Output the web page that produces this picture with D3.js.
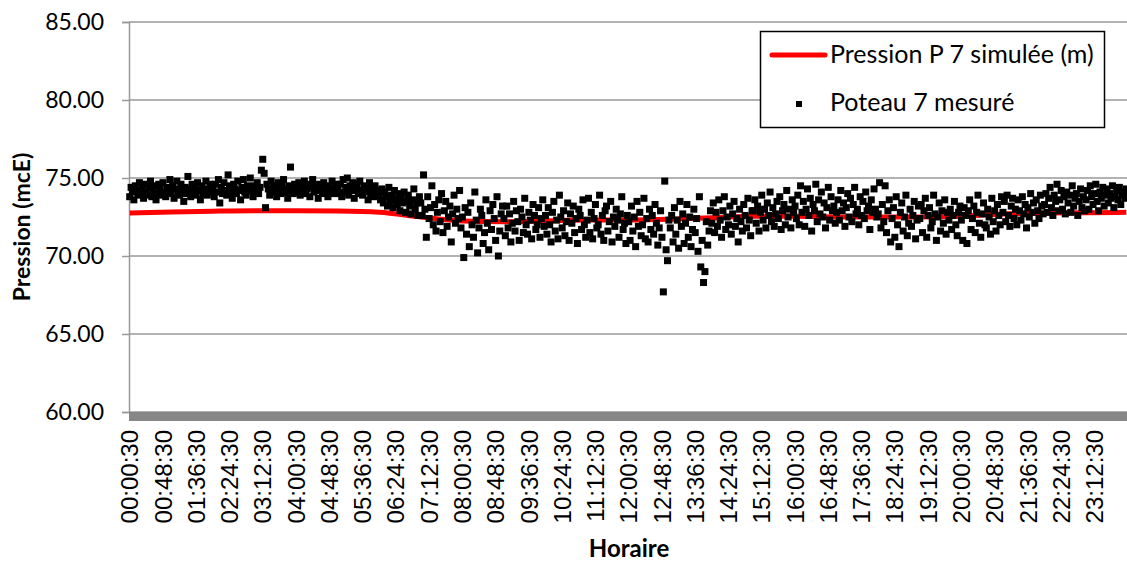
<!DOCTYPE html>
<html>
<head>
<meta charset="utf-8">
<script src="https://cdn.jsdelivr.net/npm/d3@7"></script>
<style>
  body { margin: 0; background: #fff; }
  svg { display: block; }
</style>
</head>
<body>
<svg id="chart" width="1127" height="562"></svg>
<script>
// measured pressure (mcE), one value every 2 minutes, 30 per hour
const measuredNight = [
  73.8,74.4,74.1,73.6,74.5,74.2,73.9,74.7,74.0,74.3,73.7,74.6,74.1,73.9,74.4,74.8,73.8,74.2,74.5,73.6,74.0,74.6,74.3,73.9,74.7,74.1,73.8,74.4,74.2,74.9,
  74.0,74.5,73.7,74.3,74.8,74.1,73.9,74.6,74.2,73.5,74.4,74.0,75.1,74.3,73.8,74.6,74.1,74.4,73.9,74.7,74.2,73.6,74.5,74.0,74.3,74.8,73.9,74.1,74.6,74.2,
  74.3,73.8,74.6,74.1,74.9,73.4,74.4,74.0,74.7,74.2,73.9,75.2,74.5,74.1,73.7,74.6,74.3,74.0,74.8,74.2,73.6,74.4,74.9,74.1,73.9,74.5,74.3,75.0,74.2,73.8,
  74.5,74.2,74.7,74.0,74.4,75.5,76.2,75.3,73.1,74.6,74.3,73.9,74.8,74.1,74.5,74.2,73.8,74.7,74.4,74.0,74.6,74.9,74.3,74.1,73.7,74.5,75.7,74.2,74.0,74.6,
  74.4,74.1,74.7,73.9,74.5,74.2,74.8,74.0,74.3,74.6,73.8,74.4,74.9,74.1,74.5,74.2,73.7,74.6,74.3,74.0,74.7,74.4,74.1,73.8,74.5,74.2,74.8,74.0,74.3,74.6,
  74.3,74.0,74.6,73.8,74.9,74.1,74.4,75.0,73.9,74.5,74.2,74.7,73.7,74.3,74.6,74.0,74.8,74.2,73.9,74.5,74.1,74.4,73.6,74.7,74.0,74.3,73.8,74.5,74.2,73.9
];
const measuredMorning = [
  74.0,73.6,74.3,73.4,74.1,73.8,73.2,74.4,73.5,73.9,73.1,74.2,73.6,73.3,74.0,72.9,73.7,73.4,74.1,72.8,73.5,73.9,73.2,72.7,73.6,74.3,73.0,73.4,72.6,73.8,
  73.4,72.6,75.2,73.0,71.2,73.8,72.4,73.1,74.5,72.0,73.3,71.6,72.8,73.6,72.2,74.0,71.5,72.9,73.5,71.9,72.5,73.2,70.9,72.7,73.9,72.1,73.0,72.4,74.2,71.8,
  72.5,69.9,73.1,71.4,72.8,70.6,73.4,72.0,71.2,74.1,72.3,70.2,71.8,73.0,72.6,70.8,71.5,73.6,72.1,70.4,72.9,71.7,73.3,72.4,71.0,73.8,70.0,71.6,72.7,73.2,
  72.4,71.3,73.2,71.8,72.7,70.9,72.1,73.5,71.6,72.9,72.2,71.0,73.0,72.5,71.5,73.7,72.0,71.4,72.8,72.3,71.1,73.3,72.6,71.7,72.0,73.1,71.2,72.4,73.6,71.9,
  72.6,71.4,73.1,72.0,70.9,72.8,73.5,71.6,72.3,71.1,73.9,72.5,71.8,72.9,71.3,72.2,73.4,71.0,72.7,72.1,73.2,71.5,72.4,70.8,73.0,72.6,71.7,73.6,72.0,71.2,
  72.3,73.7,71.5,72.8,71.1,72.4,73.3,71.8,72.0,73.9,71.4,72.6,71.0,72.9,73.2,71.6,72.2,73.5,70.9,72.5,71.9,73.0,72.3,71.2,72.7,73.8,71.7,72.1,70.8,72.6
];
const measuredAfternoon = [
  72.2,71.0,73.2,71.6,72.5,70.6,73.5,71.9,72.8,71.3,72.0,73.7,71.1,72.4,70.9,73.0,71.7,72.6,71.4,73.3,72.1,70.7,71.8,72.9,71.2,67.7,74.8,70.4,69.7,72.3,
  71.8,72.6,70.9,73.1,71.4,72.3,70.5,73.5,71.9,72.7,70.8,72.1,73.3,71.2,72.5,70.6,71.7,73.0,71.5,72.4,70.3,73.8,69.3,71.0,68.3,69.0,72.2,70.7,71.6,72.9,
  72.1,73.4,71.5,72.8,71.9,73.6,72.3,71.2,72.9,73.8,71.7,72.5,72.0,73.2,71.4,72.7,73.5,71.9,72.4,70.9,73.0,72.2,71.6,73.3,72.6,71.8,73.7,72.3,71.3,72.9,
  72.9,73.6,72.1,73.2,71.6,72.8,73.9,72.3,73.0,71.8,73.4,72.6,74.1,72.2,73.1,71.9,72.7,73.5,72.4,73.8,71.7,72.9,73.3,72.0,74.2,72.5,73.0,71.8,73.6,72.8,
  73.2,72.4,73.9,72.0,74.5,72.8,73.5,71.9,73.0,74.3,72.6,73.7,71.6,73.3,72.9,74.6,72.2,73.6,72.7,74.1,72.5,73.4,71.8,73.1,74.4,72.3,73.8,72.9,73.2,72.1,
  72.8,73.6,72.3,74.2,72.9,73.4,71.9,73.1,74.0,72.5,73.7,72.2,73.3,74.4,72.7,73.0,72.0,73.8,72.6,73.5,72.4,74.1,72.9,73.2,71.7,73.6,72.8,74.3,73.0,72.5
];
const measuredEvening = [
  72.7,74.7,71.8,73.3,72.2,74.5,71.5,72.9,73.6,70.9,72.4,73.1,71.2,73.8,72.0,70.6,72.8,73.4,71.6,72.5,73.9,71.3,72.1,73.0,71.9,72.6,73.5,71.1,72.3,73.2,
  72.4,73.3,71.5,72.9,73.7,71.2,72.6,73.1,71.8,72.2,73.9,72.7,71.0,72.5,73.4,71.6,72.9,72.1,73.6,71.4,72.8,72.3,73.0,71.7,72.6,73.5,72.0,71.3,72.8,73.2,
  72.3,71.0,73.1,72.6,70.8,72.9,73.6,71.7,72.4,73.2,71.5,72.8,73.9,72.1,71.2,72.7,73.4,72.0,71.8,73.0,72.5,71.4,73.7,72.2,72.9,71.6,73.3,72.6,72.0,73.8,
  72.8,73.5,72.2,73.9,72.6,71.9,73.2,73.7,72.4,73.0,72.0,73.6,72.9,72.3,73.8,72.7,73.3,71.8,73.1,72.5,74.0,72.8,73.4,72.1,73.6,72.9,72.4,73.9,73.2,72.7,
  73.3,74.0,72.8,73.7,74.4,73.1,72.6,73.9,73.5,74.6,72.9,73.6,74.2,73.0,73.8,72.7,74.1,73.4,73.9,72.8,74.5,73.2,73.7,74.0,72.6,73.5,74.3,73.1,73.8,72.9,
  73.6,74.2,73.0,74.5,73.8,73.3,74.0,74.6,73.5,72.9,74.1,73.7,74.4,73.2,73.9,74.3,73.4,74.0,73.7,74.5,73.1,73.8,74.2,73.6,74.4,73.3,73.9,74.1,73.7,74.3
];

// simulated pressure, hourly + end of day
const simTimes = ["00:00:30","01:00:30","02:00:30","03:00:30","04:00:30","05:00:30","06:00:30","07:00:30",
  "08:00:30","09:00:30","10:00:30","11:00:30","12:00:30","13:00:30","14:00:30","15:00:30","16:00:30",
  "17:00:30","18:00:30","19:00:30","20:00:30","21:00:30","22:00:30","23:00:30","23:58:30"];
const simValues = [72.75,72.82,72.87,72.9,72.9,72.88,72.8,72.5,72.25,72.2,72.25,72.3,72.3,72.35,
  72.45,72.55,72.55,72.5,72.5,72.5,72.55,72.7,72.75,72.78,72.8];

const yTicks = [60, 65, 70, 75, 80, 85];

const measured = measuredNight.concat(measuredMorning, measuredAfternoon, measuredEvening);

function timeLabel(i) {
  let m = i * 2;
  let hh = String(Math.floor(m / 60)).padStart(2, "0");
  let mm = String(m % 60).padStart(2, "0");
  return hh + ":" + mm + ":30";
}
const times = measured.map(function(d, i) { return timeLabel(i); });
const xLabels = times.filter(function(d, i) { return i % 24 === 0; });

const plotLeft = 129, plotRight = 1127, plotTop = 22, plotBottom = 412;
const calibri = "Lato, 'Open Sans', sans-serif";

const svg = d3.select("#chart");

const x = d3.scaleBand().domain(times).range([plotLeft, plotRight]);
const y = d3.scaleLinear().domain([60, 85]).range([plotBottom, plotTop]);
const cx = function(t) { return x(t) + x.bandwidth() / 2; };

// gridlines
svg.append("g")
    .selectAll("line")
    .data(yTicks)
    .enter().append("line")
      .attr("x1", plotLeft)
      .attr("x2", plotRight)
      .attr("y1", function(d) { return y(d); })
      .attr("y2", function(d) { return y(d); })
      .attr("stroke", "#999")
      .attr("stroke-width", 1.5);

// y axis
const yAxis = svg.append("g")
    .attr("transform", "translate(" + plotLeft + ",0)")
    .call(d3.axisLeft(y).tickValues(yTicks).tickFormat(d3.format(".2f")).tickSize(7).tickPadding(18));
yAxis.select(".domain").attr("stroke", "#999").attr("stroke-width", 1.5);
yAxis.selectAll(".tick line").attr("stroke", "#999").attr("stroke-width", 1.5);
yAxis.selectAll("text")
    .attr("font-family", calibri)
    .attr("font-size", 23)
    .attr("fill", "#000");

// x axis: thick grey base bar
svg.append("rect")
    .attr("x", plotLeft)
    .attr("y", plotBottom)
    .attr("width", plotRight - plotLeft)
    .attr("height", 9)
    .attr("fill", "#868686");

const xAxis = svg.append("g")
    .attr("transform", "translate(0," + plotBottom + ")")
    .call(d3.axisBottom(x).tickValues(xLabels).tickSize(0));
xAxis.select(".domain").remove();
xAxis.selectAll("text")
    .attr("font-family", "'Liberation Sans', Arial, sans-serif")
    .attr("font-size", 24)
    .attr("fill", "#000")
    .attr("text-anchor", "end")
    .attr("transform", "rotate(-90)")
    .attr("x", -18)
    .attr("y", 0)
    .attr("dy", "0.36em");

// simulated line
const line = d3.line()
    .x(function(d) { return cx(d.t); })
    .y(function(d) { return y(d.v); })
    .curve(d3.curveMonotoneX);

svg.append("path")
    .datum(simTimes.map(function(t, i) { return { t: t, v: simValues[i] }; }))
    .attr("fill", "none")
    .attr("stroke", "#ff0000")
    .attr("stroke-width", 5)
    .attr("d", line);

// measured points
const ms = 7;
svg.append("g")
    .selectAll("rect")
    .data(measured)
    .enter().append("rect")
      .attr("x", function(d, i) { return cx(times[i]) - ms / 2; })
      .attr("y", function(d) { return y(d) - ms / 2; })
      .attr("width", ms)
      .attr("height", ms)
      .attr("fill", "#000");

// axis titles
svg.append("text")
    .attr("transform", "translate(30,227) rotate(-90)")
    .attr("text-anchor", "middle")
    .attr("font-family", calibri)
    .attr("font-weight", "bold")
    .attr("font-size", 23)
    .text("Pression (mcE)");

svg.append("text")
    .attr("x", 629)
    .attr("y", 557)
    .attr("text-anchor", "middle")
    .attr("font-family", calibri)
    .attr("font-weight", "bold")
    .attr("font-size", 24)
    .text("Horaire");

// legend
const legend = svg.append("g");
legend.append("rect")
    .attr("x", 760.5)
    .attr("y", 31.5)
    .attr("width", 344)
    .attr("height", 96)
    .attr("fill", "#fff")
    .attr("stroke", "#000")
    .attr("stroke-width", 1.5);
legend.append("line")
    .attr("x1", 772)
    .attr("x2", 825)
    .attr("y1", 55)
    .attr("y2", 55)
    .attr("stroke", "#ff0000")
    .attr("stroke-width", 5)
    .attr("stroke-linecap", "round");
legend.append("rect")
    .attr("x", 799 - 3)
    .attr("y", 104 - 3)
    .attr("width", 6)
    .attr("height", 6)
    .attr("fill", "#000");
legend.selectAll("text.lab")
    .data(["Pression P 7 simulée (m)", "Poteau 7 mesuré"])
    .enter().append("text")
      .attr("class", "lab")
      .attr("x", 830)
      .attr("y", function(d, i) { return 63 + i * 48; })
      .attr("font-family", calibri)
      .attr("font-size", 25)
      .text(function(d) { return d; });
</script>
</body>
</html>
